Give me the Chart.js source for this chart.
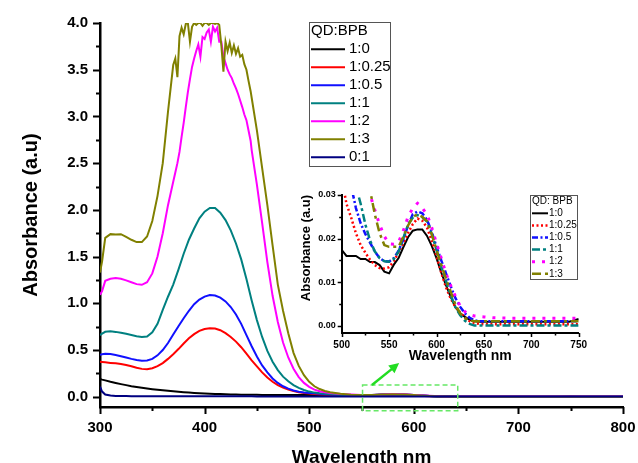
<!DOCTYPE html>
<html>
<head>
<meta charset="utf-8">
<title>Absorbance of QD:BPB mixtures</title>
<script src="https://cdn.jsdelivr.net/npm/chart.js@4/dist/chart.umd.min.js"></script>
<style>
  body { margin: 0; background: #fff; }
  #wrap { position: relative; width: 638px; height: 463px; }
  #mainChart { position: absolute; left: 0; top: 0; }
  #insetChart { position: absolute; left: 290px; top: 185px; }
</style>
</head>
<body>
<div id="wrap">
  <canvas id="mainChart" width="638" height="463"></canvas>
  <canvas id="insetChart" width="300" height="180"></canvas>
</div>
<script>
// QD:BPB ratios, in legend order
const ratios = ['1:0', '1:0.25', '1:0.5', '1:1', '1:2', '1:3', '0:1'];

const wavelengths = [
  300, 302, 305, 310, 315, 320, 325, 330, 335, 340,
  345, 350, 355, 360, 365, 370, 375, 380, 385, 390,
  395, 400, 405, 410, 415, 420, 425, 430, 435, 440,
  445, 450, 455, 460, 465, 470, 475, 480, 485, 490,
  495, 500, 505, 510, 515, 520, 525, 530, 535, 540,
  545, 550, 555, 560, 565, 570, 575, 580, 585, 590,
  595, 600, 605, 610, 615, 620, 625, 630, 635, 640,
  645, 650, 660, 680, 700, 720, 740, 750, 760, 780, 800
];

const abs1to0 = [
  0.19, 0.183, 0.175, 0.16, 0.147, 0.135, 0.124, 0.113, 0.104, 0.095,
  0.087, 0.08, 0.074, 0.069, 0.063, 0.058, 0.053, 0.048, 0.044, 0.04,
  0.037, 0.034, 0.032, 0.03, 0.028, 0.026, 0.025, 0.023, 0.022, 0.021,
  0.0205, 0.02, 0.0195, 0.019, 0.0188, 0.0185, 0.0183, 0.018, 0.0178, 0.0176,
  0.0175, 0.0174, 0.016, 0.016, 0.016, 0.0153, 0.0153, 0.0146, 0.0146, 0.0139,
  0.0124, 0.012, 0.014, 0.0155, 0.018, 0.0203, 0.0218, 0.0221, 0.0221, 0.0206,
  0.0183, 0.0155, 0.0122, 0.0093, 0.0066, 0.0042, 0.0028, 0.002, 0.0013, 0.001,
  0.0009, 0.0009, 0.0009, 0.0009, 0.0009, 0.0009, 0.0009, 0.0015, 0.0009, 0.0009, 0.0009
];

const abs1to025 = [
  0.375, 0.372, 0.368, 0.362, 0.357, 0.35, 0.34, 0.326, 0.31, 0.298,
  0.294, 0.305, 0.327, 0.36, 0.405, 0.455, 0.51, 0.57, 0.625, 0.67,
  0.705, 0.725, 0.733, 0.73, 0.712, 0.68, 0.64, 0.59, 0.53, 0.46,
  0.39, 0.325, 0.26, 0.205, 0.16, 0.125, 0.097, 0.076, 0.06, 0.048,
  0.04, 0.034, 0.028, 0.0248, 0.0212, 0.0185, 0.0167, 0.0151, 0.0139, 0.0132,
  0.0131, 0.0134, 0.0148, 0.0168, 0.0189, 0.0213, 0.0233, 0.0246, 0.0241, 0.0225,
  0.0195, 0.016, 0.0122, 0.0088, 0.0062, 0.0043, 0.003, 0.0018, 0.001, 0.0006,
  0.0004, 0.0003, 0.0003, 0.0003, 0.0003, 0.0003, 0.0003, 0.0003, 0.0003, 0.0003, 0.0003
];

const abs1to05 = [
  0.45, 0.455, 0.46, 0.456, 0.447, 0.434, 0.42, 0.405, 0.393, 0.386,
  0.388, 0.405, 0.443, 0.5, 0.575, 0.665, 0.755, 0.84, 0.92, 0.99,
  1.04, 1.072, 1.088, 1.083, 1.06, 1.02, 0.96, 0.88, 0.78, 0.66,
  0.54, 0.43, 0.335, 0.26, 0.195, 0.148, 0.112, 0.086, 0.067, 0.053,
  0.045, 0.04, 0.036, 0.032, 0.027, 0.0235, 0.021, 0.019, 0.017, 0.0155,
  0.0148, 0.0147, 0.0155, 0.0172, 0.0198, 0.023, 0.0256, 0.0262, 0.0258, 0.0243,
  0.0215, 0.0181, 0.015, 0.012, 0.009, 0.0063, 0.0043, 0.0028, 0.0018, 0.0012,
  0.001, 0.001, 0.001, 0.001, 0.001, 0.001, 0.001, 0.001, 0.001, 0.001, 0.001
];

const abs1to1 = [
  0.66, 0.675, 0.695, 0.7, 0.694, 0.685, 0.673, 0.66, 0.648, 0.64,
  0.645, 0.69, 0.78, 0.93, 1.07, 1.2, 1.36, 1.53, 1.68, 1.8,
  1.91, 1.98, 2.02, 2.02, 1.97, 1.89, 1.78, 1.64, 1.47, 1.26,
  1.03, 0.82, 0.64, 0.49, 0.375, 0.285, 0.215, 0.165, 0.125, 0.095,
  0.072, 0.055, 0.044, 0.037, 0.032, 0.028, 0.0232, 0.0195, 0.017, 0.0155,
  0.0148, 0.0147, 0.0153, 0.017, 0.0201, 0.0232, 0.0248, 0.0254, 0.0249, 0.0239,
  0.021, 0.0174, 0.0135, 0.0102, 0.007, 0.0042, 0.0024, 0.0011, 0.0004, 0,
  0, 0, 0, 0, 0, 0, 0, 0, 0, 0, 0
];

const abs1to2 = [
  1.09, 1.13, 1.24, 1.262, 1.27, 1.262, 1.245, 1.225, 1.205, 1.198,
  1.225, 1.32, 1.5, 1.75, 2.05, 2.3, 2.6, 2.92, 3.32, 3.62,
  3.78, 3.86, 3.92, 3.93, 3.86, 3.56, 3.42, 3.3, 3.12, 2.96,
  2.64, 2.27, 1.86, 1.44, 1.08, 0.8, 0.58, 0.42, 0.3, 0.21,
  0.148, 0.105, 0.076, 0.058, 0.047, 0.04, 0.034, 0.03, 0.0265, 0.0232,
  0.0205, 0.0188, 0.0187, 0.0192, 0.0218, 0.025, 0.027, 0.0281, 0.027, 0.0255,
  0.0225, 0.0189, 0.0155, 0.012, 0.0092, 0.0067, 0.0045, 0.0032, 0.0025, 0.0022,
  0.0021, 0.002, 0.0018, 0.0017, 0.0017, 0.0017, 0.0017, 0.0017, 0.0017, 0.0017, 0.0017
];

const abs1to3 = [
  1.33, 1.45, 1.7, 1.74, 1.735, 1.74, 1.71, 1.68, 1.655, 1.655,
  1.715, 1.88, 2.15, 2.5, 3.05, 3.55, 3.85, 3.9, 3.95, 4.0,
  3.98, 4.0, 3.99, 4.0, 3.98, 3.8, 3.75, 3.7, 3.62, 3.52,
  3.2, 2.85, 2.45, 2.05, 1.62, 1.2, 0.92, 0.68, 0.47, 0.33,
  0.23, 0.16, 0.112, 0.082, 0.062, 0.048, 0.039, 0.031, 0.0255, 0.0212,
  0.0185, 0.0181, 0.0181, 0.0181, 0.0204, 0.023, 0.025, 0.0255, 0.025, 0.024,
  0.021, 0.0174, 0.014, 0.0108, 0.0078, 0.0048, 0.0028, 0.0017, 0.0012, 0.001,
  0.001, 0.001, 0.001, 0.001, 0.001, 0.001, 0.001, 0.001, 0.001, 0.001, 0.001
];

const abs0to1 = [
  0.107, 0.055, 0.024, 0.012, 0.009, 0.007, 0.0065, 0.006, 0.006, 0.0055,
  0.0055, 0.005, 0.005, 0.005, 0.005, 0.005, 0.005, 0.0048, 0.0046, 0.0045,
  0.0045, 0.0044, 0.0043, 0.0042, 0.0042, 0.0041, 0.004, 0.004, 0.004, 0.0039,
  0.0038, 0.0037, 0.0036, 0.0035, 0.0035, 0.0034, 0.0033, 0.0033, 0.0032, 0.0032,
  0.0031, 0.003, 0.003, 0.003, 0.003, 0.003, 0.003, 0.003, 0.003, 0.003,
  0.003, 0.003, 0.003, 0.003, 0.003, 0.003, 0.003, 0.003, 0.003, 0.003,
  0.0028, 0.0028, 0.0028, 0.0028, 0.0028, 0.0028, 0.0028, 0.0028, 0.0028, 0.0028,
  0.0025, 0.0025, 0.0025, 0.0025, 0.0025, 0.0025, 0.0025, 0.0025, 0.0025, 0.0025, 0.0025
];

// finer sampling across the saturated band of the two most concentrated samples
const peakWavelengths = [
  372, 374, 376, 378, 380, 382, 384, 386, 388, 390,
  392, 394, 396, 398, 400, 402, 404, 406, 408, 410,
  412, 414, 416, 418, 420, 422, 424, 426, 428, 430,
  432, 434, 436, 438, 440, 442, 444
];
const peak1to2 = [
  2.4, 2.5, 2.62, 2.78, 2.93, 3.1, 3.26, 3.4, 3.53, 3.62,
  3.7, 3.77, 3.64, 3.85, 3.83, 3.9, 3.93, 3.8, 3.96, 3.91,
  3.95, 3.8, 3.8, 3.64, 3.57, 3.5, 3.45, 3.41, 3.35, 3.3,
  3.24, 3.17, 3.1, 3.02, 2.96, 2.85, 2.74
];
const peak1to3 = [
  3.62, 3.42, 3.86, 3.95, 3.88, 3.99, 4.0, 3.8, 3.96, 4.0,
  3.98, 4.0, 4.0, 3.97, 4.0, 4.0, 3.98, 4.0, 4.0, 3.99,
  4.0, 3.98, 3.76, 3.48, 3.8, 3.7, 3.79, 3.68, 3.76, 3.67,
  3.73, 3.64, 3.66, 3.56, 3.5, 3.38, 3.27
];

const spectra = [abs1to0, abs1to025, abs1to05, abs1to1, abs1to2, abs1to3, abs0to1];
const peakDetail = { 4: peak1to2, 5: peak1to3 };

const lineColors = ['#000000', '#ff0000', '#1010ff', '#008080', '#ff00ff', '#808000', '#000080'];
const insetDashes = [[], [2, 2.5], [6, 2.5, 2, 2.5], [8, 3, 3, 3], [3, 7], [9, 4, 3, 4]];
const insetWidths = [2, 2.5, 2.5, 2.5, 3, 2.5];

// dashed box on the main plot marking the zoomed region, and the arrow pointing at the inset
const zoomBox = { from: 551, to: 642, low: -0.15, high: 0.125 };
const zoomArrow = { from: [560, 0.125], to: [586, 0.36] };

const FONT = "'Liberation Sans', Arial, sans-serif";

function spectrum(i) {
  let pts = wavelengths.map((x, k) => ({ x, y: spectra[i][k] }));
  const fine = peakDetail[i];
  if (fine) {
    const lo = peakWavelengths[0];
    const hi = peakWavelengths[peakWavelengths.length - 1];
    pts = pts.filter(p => p.x < lo || p.x > hi)
      .concat(peakWavelengths.map((x, k) => ({ x, y: fine[k] })))
      .sort((a, b) => a.x - b.x);
  }
  return pts;
}

// outward major ticks plus a half-step minor tick on both axes
const axisMarks = {
  id: 'axisMarks',
  afterDraw(chart, args, o) {
    const { ctx, chartArea, scales } = chart;
    ctx.save();
    ctx.strokeStyle = '#000';
    ctx.lineWidth = o.width;
    ctx.beginPath();
    ['x', 'y'].forEach(id => {
      const s = scales[id];
      const step = s.ticks[1].value - s.ticks[0].value;
      s.ticks.forEach(t => {
        [[t.value, o.major], [t.value + step / 2, o.minor]].forEach(([v, len]) => {
          if (v > s.max + 1e-9 || v < s.min - 1e-9) return;
          const p = Math.round(s.getPixelForValue(v)) + 0.5;
          if (id === 'x') {
            ctx.moveTo(p, chartArea.bottom);
            ctx.lineTo(p, chartArea.bottom + len);
          } else {
            ctx.moveTo(chartArea.left, p);
            ctx.lineTo(chartArea.left - len, p);
          }
        });
      });
    });
    ctx.stroke();
    ctx.restore();
  }
};

// boxed legend with a title row
const boxLegend = {
  id: 'boxLegend',
  afterDraw(chart, args, o) {
    const ctx = chart.ctx;
    ctx.save();
    ctx.fillStyle = '#fff';
    ctx.fillRect(o.left, o.top, o.width, o.height);
    ctx.strokeStyle = '#555';
    ctx.lineWidth = 1;
    ctx.strokeRect(o.left + 0.5, o.top + 0.5, o.width, o.height);
    ctx.font = o.font;
    ctx.fillStyle = '#000';
    ctx.textBaseline = 'middle';
    ctx.textAlign = 'left';
    ctx.fillText(o.title, o.left + o.pad, o.top + o.titleY);
    chart.data.datasets.forEach((ds, i) => {
      const y = o.top + o.firstY + i * o.rowHeight;
      ctx.strokeStyle = ds.borderColor;
      ctx.lineWidth = ds.borderWidth;
      ctx.setLineDash(ds.borderDash || []);
      ctx.beginPath();
      ctx.moveTo(o.left + o.pad, y);
      ctx.lineTo(o.left + o.pad + o.sample, y);
      ctx.stroke();
      ctx.setLineDash([]);
      ctx.fillText(ds.label, o.left + o.pad + o.sample + o.gap, y);
    });
    ctx.restore();
  }
};

const zoomMarker = {
  id: 'zoomMarker',
  afterDraw(chart) {
    const { ctx, scales: { x, y } } = chart;
    ctx.save();
    ctx.strokeStyle = '#66e866';
    ctx.lineWidth = 1.5;
    ctx.setLineDash([5, 3]);
    const x0 = x.getPixelForValue(zoomBox.from), x1 = x.getPixelForValue(zoomBox.to);
    const y0 = y.getPixelForValue(zoomBox.low), y1 = y.getPixelForValue(zoomBox.high);
    ctx.strokeRect(x0, y1, x1 - x0, y0 - y1);
    ctx.setLineDash([]);
    const ax = x.getPixelForValue(zoomArrow.from[0]), ay = y.getPixelForValue(zoomArrow.from[1]);
    const bx = x.getPixelForValue(zoomArrow.to[0]), by = y.getPixelForValue(zoomArrow.to[1]);
    const ang = Math.atan2(by - ay, bx - ax);
    const head = 10;
    ctx.strokeStyle = '#22dd22';
    ctx.fillStyle = '#22dd22';
    ctx.lineWidth = 2.5;
    ctx.beginPath();
    ctx.moveTo(ax, ay);
    ctx.lineTo(bx - head * 0.8 * Math.cos(ang), by - head * 0.8 * Math.sin(ang));
    ctx.stroke();
    ctx.beginPath();
    ctx.moveTo(bx, by);
    ctx.lineTo(bx - head * Math.cos(ang) + 5 * Math.sin(ang), by - head * Math.sin(ang) - 5 * Math.cos(ang));
    ctx.lineTo(bx - head * Math.cos(ang) - 5 * Math.sin(ang), by - head * Math.sin(ang) + 5 * Math.cos(ang));
    ctx.closePath();
    ctx.fill();
    ctx.restore();
  }
};

const mainChart = new Chart(document.getElementById('mainChart'), {
  type: 'line',
  data: {
    datasets: ratios.map((label, i) => ({
      label,
      data: spectrum(i),
      borderColor: lineColors[i],
      borderWidth: 2,
      pointRadius: 0,
      order: ratios.length - 1 - i,
    })),
  },
  plugins: [axisMarks, boxLegend, zoomMarker],
  options: {
    responsive: false,
    animation: false,
    events: [],
    layout: { padding: { left: 0, right: 15, top: 23, bottom: 0 } },
    plugins: {
      legend: { display: false },
      tooltip: { enabled: false },
      axisMarks: { major: 7, minor: 4, width: 2 },
      boxLegend: {
        left: 309, top: 22, width: 81, height: 144, pad: 2,
        titleY: 9, firstY: 27.3, rowHeight: 18, sample: 34, gap: 4,
        title: 'QD:BPB', font: '15px ' + FONT,
      },
    },
    scales: {
      x: {
        type: 'linear',
        min: 300,
        max: 800,
        ticks: {
          stepSize: 100, maxTicksLimit: 6, autoSkip: false, maxRotation: 0,
          padding: 12, color: '#000',
          font: { family: FONT, size: 15, weight: 'bold' },
        },
        grid: { display: false, drawTicks: false },
        border: { display: true, color: '#000', width: 2.5 },
        title: {
          display: true, text: 'Wavelength nm', color: '#000',
          font: { family: FONT, size: 19, weight: 'bold', lineHeight: 1 },
          padding: { top: 0, bottom: -4 },
        },
        afterFit(scale) { scale.height = 56; scale.paddingLeft = 0; scale.paddingRight = 0; },
      },
      y: {
        min: -0.11,
        max: 4,
        ticks: {
          stepSize: 0.5, includeBounds: false, autoSkip: false,
          padding: 12, color: '#000',
          font: { family: FONT, size: 15, weight: 'bold' },
          callback: v => v.toFixed(1),
        },
        grid: { display: false, drawTicks: false },
        border: { display: true, color: '#000', width: 2.5 },
        title: {
          display: true, text: 'Absorbance (a.u)', color: '#000',
          font: { family: FONT, size: 20, weight: 'bold', lineHeight: 1 },
          padding: { top: 21, bottom: 0 },
        },
        afterFit(scale) { scale.width = 100; scale.paddingTop = 0; scale.paddingBottom = 0; },
      },
    },
  },
});

const insetChart = new Chart(document.getElementById('insetChart'), {
  type: 'line',
  data: {
    datasets: ratios.slice(0, 6).map((label, i) => ({
      label,
      data: spectrum(i),
      borderColor: lineColors[i],
      borderWidth: insetWidths[i],
      borderDash: insetDashes[i],
      pointRadius: 0,
      order: 5 - i,
    })),
  },
  plugins: [axisMarks, boxLegend],
  options: {
    responsive: false,
    animation: false,
    events: [],
    layout: { padding: { left: 0, right: 11.3, top: 10, bottom: 0 } },
    plugins: {
      legend: { display: false },
      tooltip: { enabled: false },
      axisMarks: { major: 4, minor: 2.5, width: 1.5 },
      boxLegend: {
        left: 240, top: 10, width: 47, height: 84, pad: 2,
        titleY: 6.7, firstY: 18.3, rowHeight: 12.1, sample: 16, gap: 1,
        title: 'QD: BPB', font: '10px ' + FONT,
      },
    },
    scales: {
      x: {
        type: 'linear',
        min: 500,
        max: 750,
        ticks: {
          stepSize: 50, maxTicksLimit: 6, autoSkip: false, maxRotation: 0,
          padding: 6, color: '#000',
          font: { family: FONT, size: 10, weight: 'bold' },
        },
        grid: { display: false, drawTicks: false },
        border: { display: true, color: '#000', width: 2 },
        title: {
          display: true, text: 'Wavelength nm', color: '#000',
          font: { family: FONT, size: 14, weight: 'bold', lineHeight: 1 },
          padding: { top: 0, bottom: 2 },
        },
        afterFit(scale) { scale.height = 32; scale.paddingLeft = 0; scale.paddingRight = 0; },
      },
      y: {
        min: -0.0017,
        max: 0.03,
        ticks: {
          stepSize: 0.01, maxTicksLimit: 5, includeBounds: false, autoSkip: false,
          padding: 6, color: '#000',
          font: { family: FONT, size: 9, weight: 'bold' },
          callback: v => v.toFixed(2),
        },
        grid: { display: false, drawTicks: false },
        border: { display: true, color: '#000', width: 2 },
        title: {
          display: true, text: 'Absorbance (a.u)', color: '#000', align: 'end',
          font: { family: FONT, size: 13, weight: 'bold', lineHeight: 1 },
          padding: { top: 10, bottom: 0 },
        },
        afterFit(scale) { scale.width = 51.7; scale.paddingTop = 0; scale.paddingBottom = 0; },
      },
    },
  },
});
</script>
</body>
</html>
